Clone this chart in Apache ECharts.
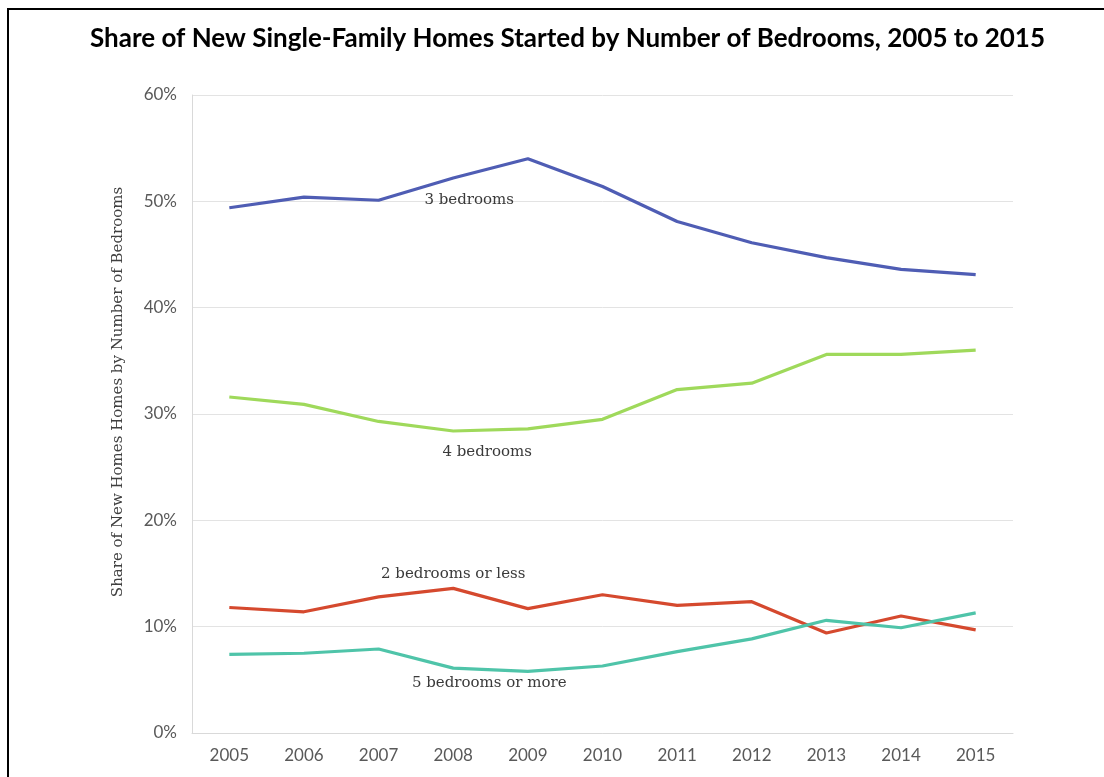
<!DOCTYPE html>
<html>
<head>
<meta charset="utf-8">
<script src="https://cdn.jsdelivr.net/npm/echarts@6/dist/echarts.min.js"></script>
<style>
  html, body { margin: 0; padding: 0; background: #fff; }
  #chart { width: 1104px; height: 777px; }
</style>
</head>
<body>
<div id="chart"></div>
<script>
// 年份
const years = ['2005', '2006', '2007', '2008', '2009', '2010', '2011', '2012', '2013', '2014', '2015'];

// 各卧室数量占比 (%)
const bed3 = [49.4, 50.4, 50.1, 52.2, 54.0, 51.4, 48.1, 46.1, 44.7, 43.6, 43.1];
const bed4 = [31.6, 30.9, 29.3, 28.4, 28.6, 29.5, 32.3, 32.9, 35.6, 35.6, 36.0];
const bed2 = [11.8, 11.4, 12.8, 13.6, 11.7, 13.0, 12.0, 12.35, 9.4, 11.0, 9.7];
const bed5 = [7.4, 7.5, 7.9, 6.1, 5.8, 6.3, 7.65, 8.85, 10.6, 9.9, 11.3];

// 系列名称和标注位置
const seriesNames = ['3 bedrooms', '4 bedrooms', '2 bedrooms or less', '5 bedrooms or more'];
const labelAt = [
    { year: '2008', value: 50.1 },
    { year: '2008', value: 26.4 },
    { year: '2008', value: 14.9 },
    { year: '2008', value: 4.7 }
];
const labelShift = [[16, 0], [34, 0], [0, 0], [36, 0]];

const colors = ['#4f5db4', '#9fd95b', '#d5492e', '#4fc4a9'];
const seriesData = [bed3, bed4, bed2, bed5];

const chart = echarts.init(document.getElementById('chart'));

const series = seriesData.map((data, i) => ({
    name: seriesNames[i],
    type: 'line',
    data: data,
    symbol: 'none',
    lineStyle: { width: 3.2, color: colors[i] },
    itemStyle: { color: colors[i] },
    z: 3,
    markPoint: {
        symbol: 'circle',
        symbolSize: 0,
        silent: true,
        label: {
            show: true,
            position: 'inside',
            offset: labelShift[i],
            formatter: seriesNames[i],
            fontFamily: 'DejaVu Serif',
            fontSize: 15,
            color: '#3a3a3a'
        },
        data: [{ coord: [labelAt[i].year, labelAt[i].value] }]
    }
}));

chart.setOption({
    animation: false,
    title: {
        text: 'Share of New Single-Family Homes Started by Number of Bedrooms, 2005 to 2015',
        left: 85,
        top: 21,
        textStyle: { fontFamily: 'Lato', fontWeight: 'bold', fontSize: 26, color: '#000' }
    },
    grid: { left: 192, right: 91, top: 95, bottom: 44 },
    xAxis: {
        type: 'category',
        data: years,
        boundaryGap: true,
        axisLine: { show: true, lineStyle: { color: '#d9d9d9', width: 1 } },
        axisTick: { show: false },
        axisLabel: { fontFamily: 'Lato', fontSize: 17, color: '#595959', margin: 14 }
    },
    yAxis: {
        type: 'value',
        min: 0,
        max: 60,
        interval: 10,
        axisLine: { show: true, lineStyle: { color: '#d9d9d9', width: 1 } },
        axisTick: { show: false },
        splitLine: { lineStyle: { color: '#e3e3e3', width: 1 } },
        axisLabel: { formatter: '{value}%', fontFamily: 'Lato', fontSize: 17, color: '#595959', margin: 15 }
    },
    graphic: [
        {
            type: 'polyline',
            shape: { points: [[8, 777], [8, 9], [1104, 9]] },
            style: { stroke: '#000', lineWidth: 2, fill: null }
        },
        {
            // 纵轴标题
            type: 'text',
            x: 118,
            y: 392,
            rotation: Math.PI / 2,
            style: {
                text: 'Share of New Homes Homes by Number of Bedrooms',
                fontFamily: 'DejaVu Serif',
                fontSize: 15,
                fill: '#404040',
                align: 'center',
                verticalAlign: 'middle'
            }
        }
    ],
    series: series
});

window.addEventListener('resize', () => chart.resize());
</script>
</body>
</html>
